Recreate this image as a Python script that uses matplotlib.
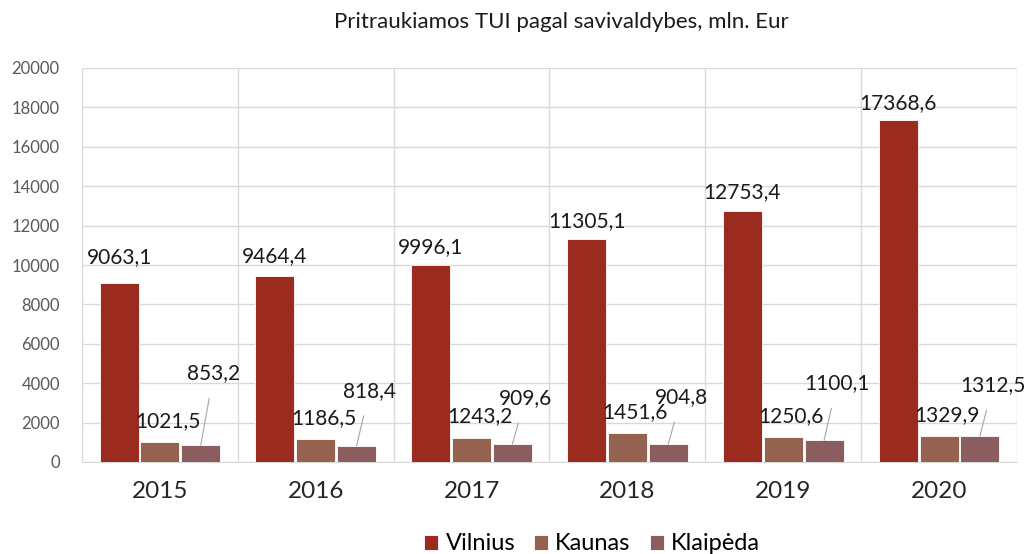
import matplotlib
matplotlib.use("Agg")
import matplotlib.pyplot as plt
import numpy as np

plt.rcParams['font.family'] = ['Lato', 'DejaVu Sans']

# --- Data ---
years = ['2015', '2016', '2017', '2018', '2019', '2020']
vilnius = [9063.1, 9464.4, 9996.1, 11305.1, 12753.4, 17368.6]
kaunas = [1021.5, 1186.5, 1243.2, 1451.6, 1250.6, 1329.9]
klaipeda = [853.2, 818.4, 909.6, 904.8, 1100.1, 1312.5]
series_names = ['Vilnius', 'Kaunas', 'Klaipėda']
colors = ['#9C2B1F', '#95624F', '#8B5D5F']

# label offsets (pixels above bar top), placed by hand in the source chart
vil_dy = [26, 19, 18, 18, 19, 17]
klaip_dy = [72, 55, 46, 47, 57, 51]

def fmt(v):
    return f"{v:.1f}".replace('.', ',')

# --- Plotting ---
fig = plt.figure(figsize=(10.27, 5.54), dpi=100)
ax = fig.add_axes([82/1027, 92/554, 935/1027, 394/554])

x = np.arange(len(years))
w = 0.25
gap = 0.012
offsets = [-(w + gap), 0, (w + gap)]
for vals, off, col, name in zip([vilnius, kaunas, klaipeda], offsets, colors, series_names):
    ax.bar(x + off, vals, width=w, color=col, label=name, zorder=3,
           edgecolor='white', linewidth=0.6)

ax.set_xlim(-0.5, len(years) - 0.5)
ax.set_ylim(0, 20000)
ax.set_yticks(np.arange(0, 20001, 2000))
ax.set_xticks(x)
ax.set_xticklabels(years, fontsize=17.5, color='#262626')
ax.tick_params(axis='y', labelsize=12, colors='#595959', length=0, pad=16)
ax.tick_params(axis='x', length=0, pad=14)

ax.grid(axis='y', color='#d9d9d9', linewidth=1, zorder=0)
for b in np.arange(-0.5, len(years), 1):
    ax.axvline(b, color='#d9d9d9', linewidth=1, zorder=0)
for s in ['top', 'right', 'left']:
    ax.spines[s].set_visible(False)
ax.spines['bottom'].set_color('#d9d9d9')

# data labels
lbl = dict(ha='center', va='center', fontsize=15, color='#1a1a1a')
for i in range(len(years)):
    ax.annotate(fmt(vilnius[i]), (x[i] + offsets[0], vilnius[i]),
                xytext=(0, vil_dy[i]), textcoords='offset pixels', **lbl)
    ax.annotate(fmt(kaunas[i]), (x[i] + offsets[1], kaunas[i]),
                xytext=(8, 21), textcoords='offset pixels', **lbl)
    ax.annotate(fmt(klaipeda[i]), (x[i] + offsets[2], klaipeda[i]),
                xytext=(13, klaip_dy[i]), textcoords='offset pixels',
                arrowprops=dict(arrowstyle='-', color='#a6a6a6', lw=0.8,
                                shrinkA=9, shrinkB=0), **lbl)

fig.text(561/1027, 1 - 22/554, 'Pritraukiamos TUI pagal savivaldybes, mln. Eur',
         ha='center', va='center', fontsize=16, color='#1a1a1a')

fig.legend(loc='center', bbox_to_anchor=(592/1027, 1 - 544/554), ncol=3,
           frameon=False, fontsize=17,
           handlelength=0.6, handleheight=0.6,
           handletextpad=0.3, columnspacing=0.8)

fig.savefig('out.png', dpi=100)
